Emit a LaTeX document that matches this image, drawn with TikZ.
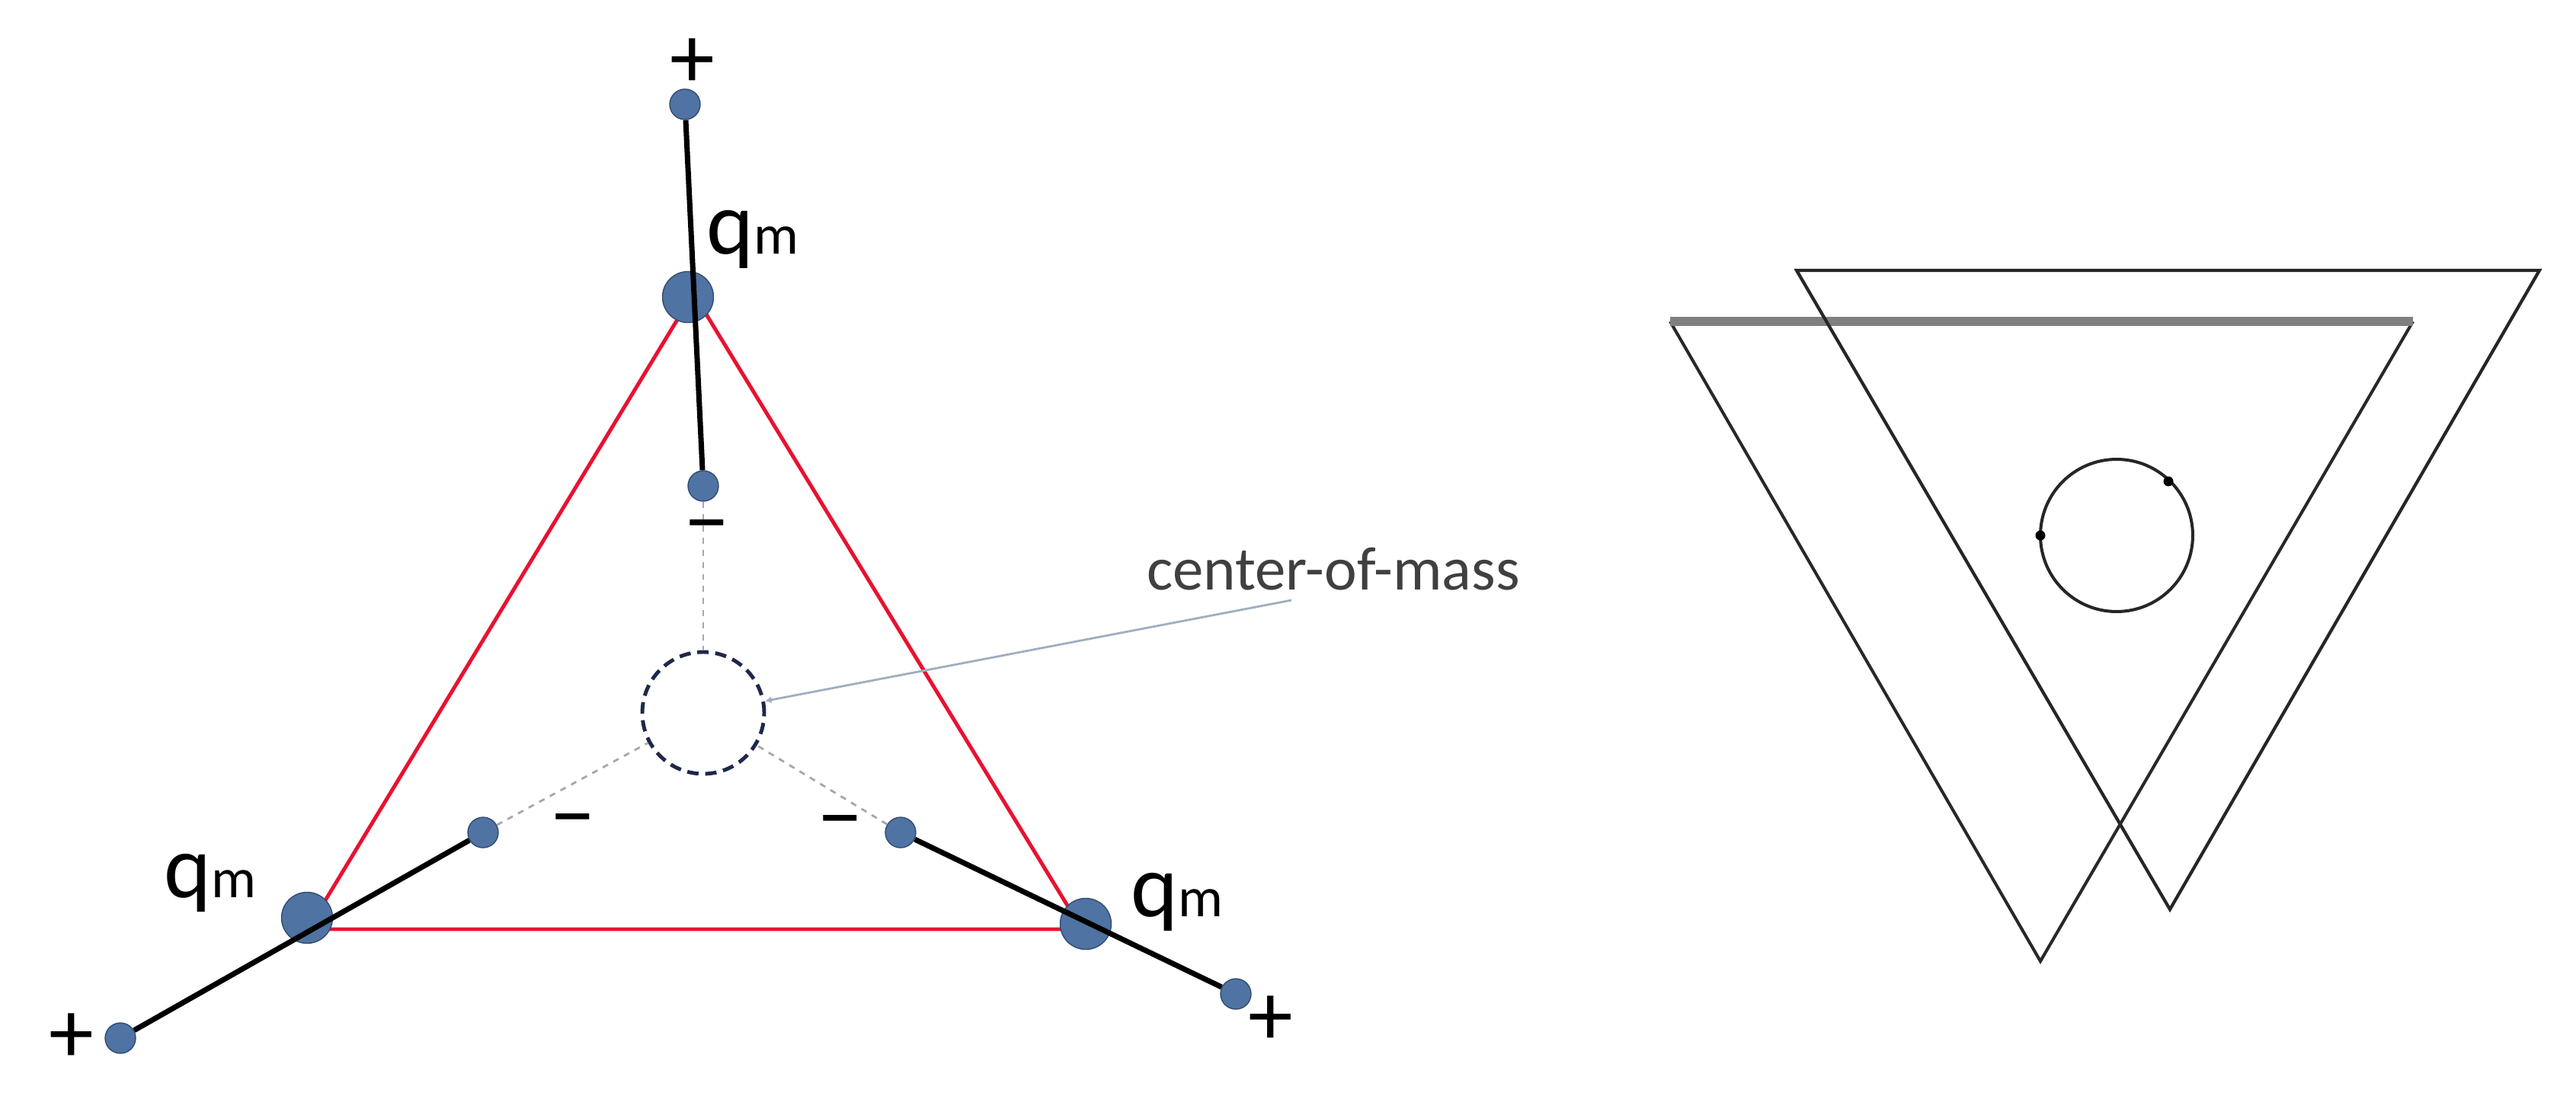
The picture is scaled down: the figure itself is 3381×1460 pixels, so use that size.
\documentclass[tikz,border=0pt]{standalone}
\usepackage{fontspec}
\setmainfont{Carlito}
\usetikzlibrary{arrows.meta}
\definecolor{dotblue}{RGB}{79,115,163}
\definecolor{dotedge}{RGB}{50,76,112}
\definecolor{trired}{RGB}{232,18,48}
\definecolor{comnavy}{RGB}{30,40,75}
\definecolor{dashgray}{RGB}{168,168,168}
\definecolor{leadercol}{RGB}{160,174,192}
\definecolor{lblcol}{RGB}{64,64,64}
\definecolor{topgray}{RGB}{128,128,128}
\definecolor{edgedark}{RGB}{40,40,40}
\begin{document}
\begin{tikzpicture}[x=0.02cm,y=-0.02cm,
  bigdot/.style={circle,fill=dotblue,draw=dotedge,line width=0.8pt,minimum size=1.34cm,inner sep=0pt},
  smalldot/.style={circle,fill=dotblue,draw=dotedge,line width=0.8pt,minimum size=0.8cm,inner sep=0pt},
  redtri/.style={draw=trired,line width=2.8pt,line join=round},
  dipole/.style={draw=black,line width=4pt},
  guide/.style={draw=dashgray,line width=1.6pt,dash pattern=on 4.5pt off 4.5pt},
  comcircle/.style={circle,draw=comnavy,line width=2.8pt,dash pattern=on 8.5pt off 5pt,minimum size=3.2cm,inner sep=0pt},
  sign/.style={inner sep=0pt,font=\fontsize{67}{67}\selectfont},
  qlabel/.style={inner sep=0pt,anchor=base west},
  trisideA/.style={draw=edgedark,line width=2.3pt},
  tritopA/.style={draw=topgray,line width=6.8pt},
  triB/.style={draw=black!85,line width=2.4pt,line join=miter},
  orbit/.style={draw=black!85,line width=2.3pt},
  orbdot/.style={circle,fill=black,inner sep=0pt,minimum size=0.26cm}
]
\useasboundingbox (0,0) rectangle (3381,1460);

% ---------------- left figure ----------------
\coordinate (rt) at (910,385);
\coordinate (rbl) at (404,1220);
\coordinate (rbr) at (1420,1220);
\draw[redtri] (rt) -- (rbl) -- (rbr) -- cycle;

% vertex charges
\node[bigdot] (vt) at (903,390) {};
\node[bigdot] (vbl) at (403,1205) {};
\node[bigdot] (vbr) at (1425,1213) {};

% dipole end charges
\node[smalldot] (tout) at (899,137) {};
\node[smalldot] (tin) at (923,638) {};
\node[smalldot] (blout) at (158,1363) {};
\node[smalldot] (blin) at (634,1093) {};
\node[smalldot] (brout) at (1622,1305) {};
\node[smalldot] (brin) at (1182,1093) {};

\draw[dipole] (tout) -- (tin);
\draw[dipole] (blout) -- (blin);
\draw[dipole] (brin) -- (brout);

% center of mass
\node[comcircle] (com) at (923,936) {};
\draw[guide] (tin) -- (com);
\draw[guide] (blin) -- (com);
\draw[guide] (brin) -- (com);

% signs
\node[sign] (ptop) at (909,83) {+};
\node[sign] (mtop) at (928,703) {\char"2212};
\node[sign] (pbl) at (94,1363) {+};
\node[sign] (mbl) at (752,1089) {\char"2212};
\node[sign] (pbr) at (1668,1340) {+};
\node[sign] (mbr) at (1103,1091) {\char"2212};

% q_m labels
\node[qlabel] (qtop) at (927,333) {\fontsize{67}{67}\selectfont q\fontsize{42}{42}\selectfont m};
\node[qlabel] (qbl) at (215,1178) {\fontsize{67}{67}\selectfont q\fontsize{42}{42}\selectfont m};
\node[qlabel] (qbr) at (1484,1203) {\fontsize{67}{67}\selectfont q\fontsize{42}{42}\selectfont m};

% center-of-mass label
\node[inner sep=0pt,anchor=base west,text=lblcol,font=\fontsize{46}{46}\selectfont] (comlbl) at (1505,774) {center-of-mass};
\coordinate (lblend) at (1695,788);
\draw[draw=leadercol,line width=1.6pt,{Latex[length=5pt,width=5pt]}-] (com) -- (lblend);

% ---------------- right figure ----------------
\coordinate (A1) at (2192,422);
\coordinate (A2) at (3167,422);
\coordinate (A3) at (2678,1262);
\draw[trisideA] (A2) -- (A3) -- (A1);
\draw[tritopA] (A1) -- (A2);

\coordinate (B1) at (2358,355);
\coordinate (B2) at (3333,355);
\coordinate (B3) at (2848,1194);
\draw[triB] (B1) -- (B2) -- (B3) -- cycle;

\draw[orbit] (2778,703) circle[radius=2cm];
\node[orbdot] (d1) at (2846,632) {};
\node[orbdot] (d2) at (2678,703) {};
\end{tikzpicture}
\end{document}
